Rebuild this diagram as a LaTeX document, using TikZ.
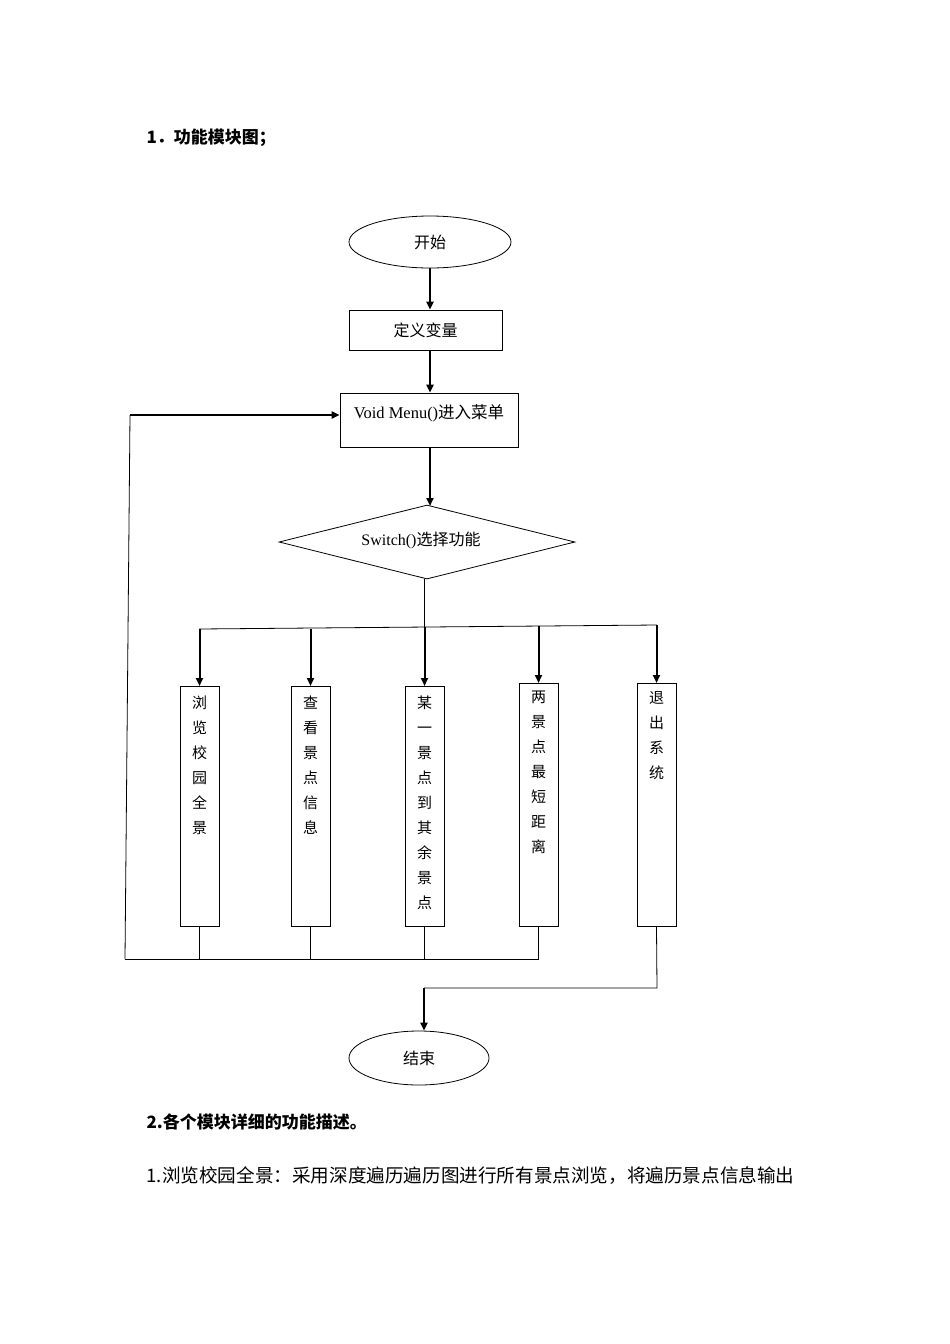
\documentclass[tikz,border=0pt]{standalone}
\usepackage{fontspec}
\setmainfont{Liberation Serif}
\newfontfamily\cjk{Noto Sans CJK SC}
\usetikzlibrary{shapes.geometric,arrows.meta}
\begin{document}
\begin{tikzpicture}[x=1pt,y=-1pt,
  line/.style={line width=0.8pt},
  arr/.style={line width=2pt,-{Triangle[length=8pt,width=7pt]}},
  box/.style={draw,line width=0.8pt,inner sep=0pt},
  vbox/.style={box,minimum width=39pt,anchor=north},
  vt/.style={font=\cjk\fontsize{15}{25}\selectfont,align=center,anchor=north,inner sep=0pt},
  lbl/.style={font=\fontsize{16}{18}\selectfont}]
\useasboundingbox[fill=white] (0,0) rectangle (950,1344);
\node[anchor=west,font=\cjk\bfseries\fontsize{17}{20}\selectfont] (t1) at (143,138) {1．功能模块图；};
\node[box,ellipse,minimum width=162pt,minimum height=52pt,lbl] (start) at (430,242) {\cjk 开始};
\node[box,minimum width=153pt,minimum height=40pt,lbl] (def) at (425.5,330) {\cjk 定义变量};
\node[box,minimum width=178pt,minimum height=54pt] (menu) at (429,420) {};
\node[lbl,font=\fontsize{16.5}{18}\selectfont] (menut) at (429,413) {Void Menu()\cjk 进入菜单};
\node[box,diamond,aspect=4,minimum width=296pt,minimum height=74pt,inner sep=0pt] (sw) at (427,542) {};
\node[lbl] (swt) at (421,540) {Switch()\cjk 选择功能};
\coordinate (a1) at (430,268);
\coordinate (a2) at (430,350);
\coordinate (a3) at (430,447);
\draw[arr] (a1) -- (a1 |- def.north);
\draw[arr] (a2) -- (a2 |- menu.north);
\draw[arr] (a3) -- (a3 |- 0,506);
% boxes
\node[vbox,minimum height=240pt] (b1) at (199.5,686) {};
\node[vbox,minimum height=240pt] (b2) at (310.5,686) {};
\node[vbox,minimum height=240pt] (b3) at (424.5,686) {};
\node[vbox,minimum height=243pt] (b4) at (538.5,683) {};
\node[vbox,minimum height=243pt] (b5) at (656.5,683) {};
\node[vt] (t1b) at (199.5,696) {浏\\览\\校\\园\\全\\景};
\node[vt] (t2b) at (310.5,696) {查\\看\\景\\点\\信\\息};
\node[vt] (t3b) at (424.5,696) {某\\一\\景\\点\\到\\其\\余\\景\\点};
\node[vt] (t4b) at (538.5,691) {两\\景\\点\\最\\短\\距\\离};
\node[vt] (t5b) at (656.5,691) {退\\出\\系\\统};
\coordinate (hl) at (199,629);
\coordinate (hr) at (657,625);
\coordinate (hm) at (424,627);
\draw[line] (hm |- 0,579) -- (hm);
\draw[line] (hl) -- (hr);
\foreach \b/\y in {b1/629,b2/628.5,b3/627,b4/626,b5/625}{
  \draw[arr] (\b.north |- 0,\y) -- (\b.north);
}
% returns
\coordinate (ll) at (125,959);
\coordinate (lu) at (130,415);
\draw[line] (ll) -- (b4.south |- ll);
\foreach \b in {b1,b2,b3,b4}{\draw[line] (\b.south) -- (\b.south |- ll);}
\draw[line] (ll) -- (lu);
\draw[arr] (lu) -- (menu.west |- lu);
\node[box,ellipse,minimum width=140pt,minimum height=54pt,lbl] (end) at (419,1058) {\cjk 结束};
\coordinate (e1) at (657,988);
\coordinate (e2) at (424,988);
\draw[line] (b5.south) -- (e1) -- (e2);
\draw[arr] (e2) -- (e2 |- end.north);
\node[anchor=west,font=\cjk\bfseries\fontsize{17}{20}\selectfont] (t2) at (143,1122) {2.各个模块详细的功能描述。};
\node[anchor=west,font=\cjk\fontsize{18.6}{20}\selectfont] (t3) at (143,1176) {1.浏览校园全景：采用深度遍历遍历图进行所有景点浏览，将遍历景点信息输出};
\end{tikzpicture}
\end{document}
